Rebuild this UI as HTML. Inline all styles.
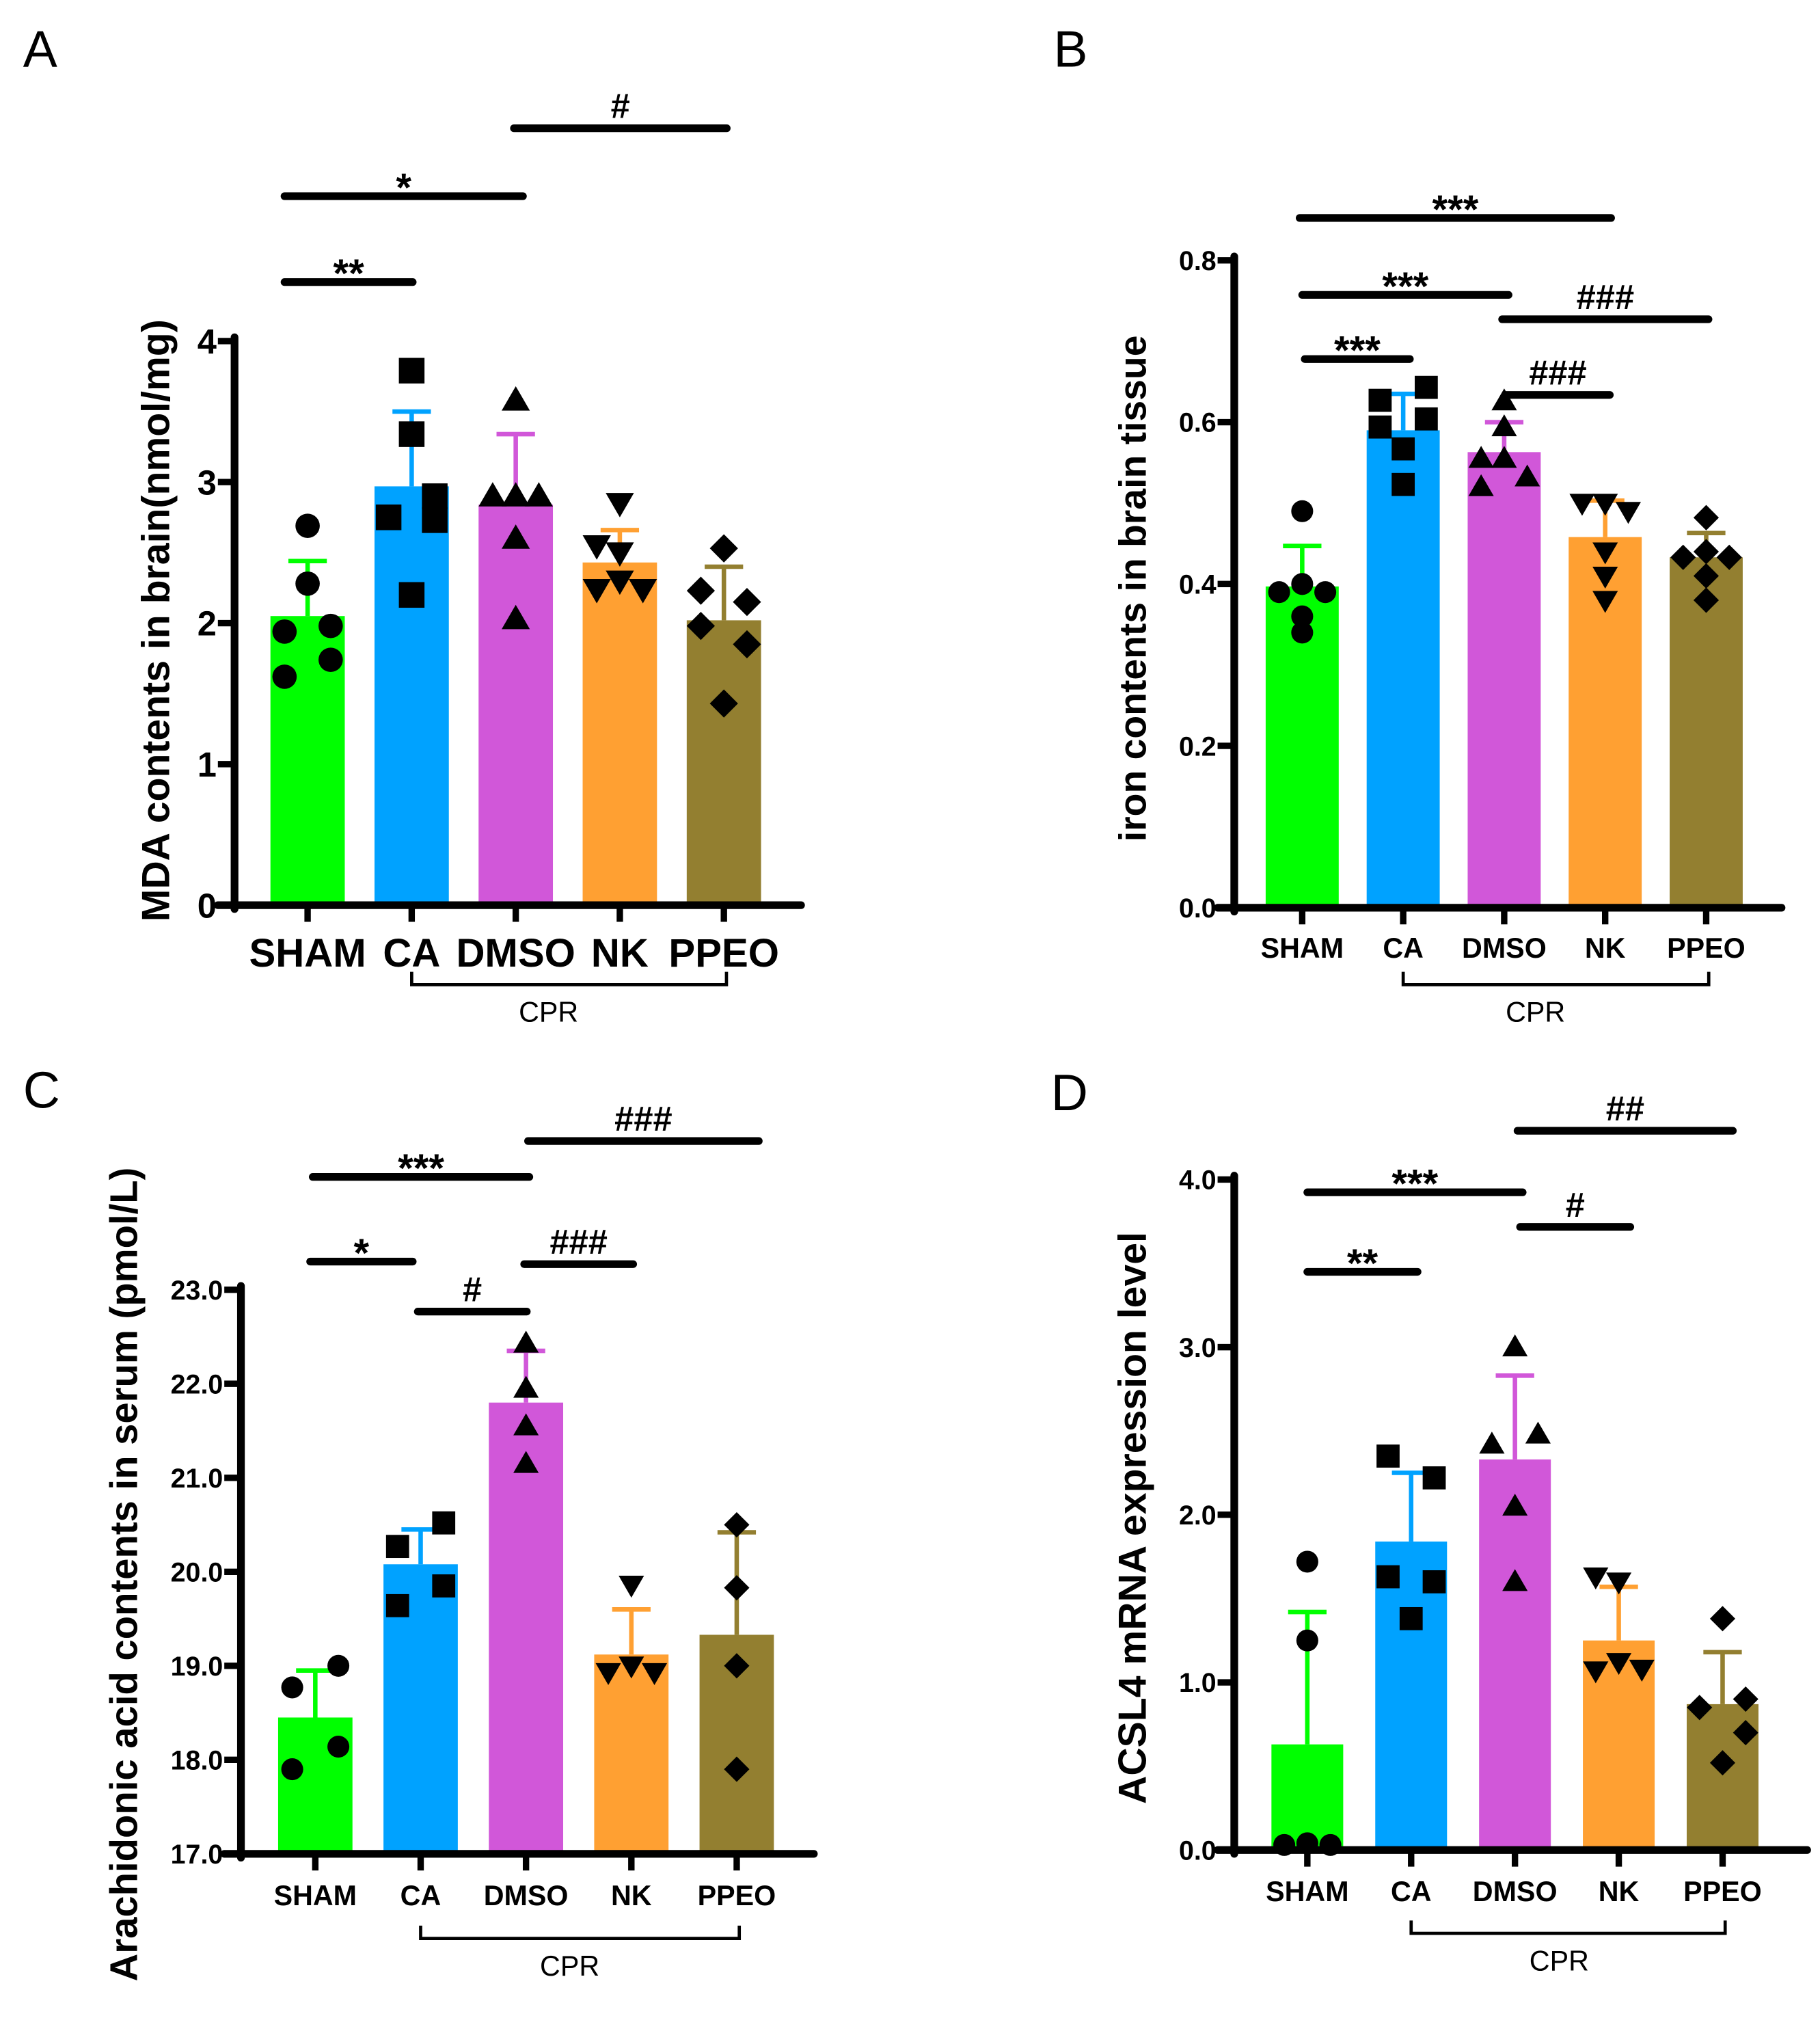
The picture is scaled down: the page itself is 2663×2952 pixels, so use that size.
<!DOCTYPE html>
<html><head><meta charset="utf-8"><style>
html,body{margin:0;padding:0;background:#fff}
svg{display:block}
text{font-family:"Liberation Sans",Arial,sans-serif}
</style></head><body>
<svg id="fig" xmlns="http://www.w3.org/2000/svg" width="2663" height="2952" viewBox="0 0 1420 1574"></svg>
<script>
const groups = ["SHAM","CA","DMSO","NK","PPEO"];
const colors = ["#00FF00","#00A2FF","#D157D9","#FFA032","#937F30"];
const shapes = ["circle","square","tri","itri","diamond"];

const aMeans = [2.05,2.97,2.84,2.43,2.02];
const aTops  = [2.44,3.50,3.34,2.66,2.40];
const aPoints = [[2.69,2.28,1.94,1.98,1.62,1.74],[3.79,3.34,2.75,2.9,2.73,2.2],[3.58,2.9,2.9,2.9,2.6,2.03],[2.85,2.55,2.5,2.24,2.3,2.24],[2.53,2.23,2.15,1.98,1.85,1.43]];
const aOffsets = [[0,0,-18,18,-18,18],[0,0,-18,18,18,0],[0,-18,0,18,0,0],[0,-18,0,-18,0,18],[0,-18,18,-18,18,0]];
const aTicks = ["0","1","2","3","4"];

const bMeans = [0.397,0.59,0.563,0.458,0.433];
const bTops  = [0.447,0.635,0.60,0.503,0.463];
const bPoints = [[0.49,0.40,0.39,0.39,0.36,0.34],[0.627,0.643,0.594,0.604,0.567,0.523],[0.626,0.594,0.555,0.555,0.52,0.532],[0.50,0.50,0.49,0.44,0.41,0.38],[0.482,0.44,0.433,0.433,0.41,0.38]];
const bOffsets = [[0,0,-18,18,0,0],[-18,18,-18,18,0,0],[0,0,-18,0,-18,18],[-18,0,18,0,0,0],[0,0,-18,18,0,0]];
const bTicks = ["0.0","0.2","0.4","0.6","0.8"];

const cMeans = [18.45,20.08,21.8,19.12,19.33];
const cTops  = [18.95,20.45,22.35,19.6,20.42];
const cPoints = [[18.77,19.0,18.14,17.9],[20.52,20.27,19.64,19.85],[22.43,21.95,21.55,21.15],[19.86,19.0,18.93,18.93],[20.5,19.83,19.0,17.9]];
const cOffsets = [[-18,18,18,-18],[18,-18,-18,18],[0,0,0,0],[0,0,-18,18],[0,0,0,0]];
const cTicks = ["17.0","18.0","19.0","20.0","21.0","22.0","23.0"];

const dMeans = [0.63,1.84,2.33,1.25,0.87];
const dTops  = [1.42,2.25,2.83,1.57,1.18];
const dPoints = [[1.72,1.25,0.03,0.04,0.03],[2.35,2.22,1.63,1.6,1.38],[3.0,2.42,2.48,2.05,1.6],[1.63,1.6,1.07,1.12,1.08],[1.38,0.9,0.85,0.7,0.52]];
const dOffsets = [[0,0,-18,0,18],[-18,18,-18,18,0],[0,-18,18,0,0],[-18,0,-18,0,18],[0,18,-18,18,0]];
const dTicks = ["0.0","1.0","2.0","3.0","4.0"];

const svg = document.getElementById('fig');
const NS = "http://www.w3.org/2000/svg";
function mk(tag, attrs, parent){const e=document.createElementNS(NS,tag);for(const k in attrs)e.setAttribute(k,attrs[k]);(parent||svg).appendChild(e);return e;}
function txt(s, attrs, parent){const e=mk('text',attrs,parent);e.textContent=s;return e;}

function panel(cfg){
  const g = mk('g',{});
  
  
  const y = v => cfg.y0 - (v - cfg.vmin)/(cfg.vmax-cfg.vmin)*(cfg.y0-cfg.ytop);
  const xc = i => cfg.x0 + i*cfg.step;
  const bw = cfg.bw;
  const L = txt(cfg.letter,{x:cfg.lx,y:cfg.ly,'font-size':40,fill:'#000'},g);
  
  
  groups.forEach((grp,i)=>{
    const r = mk('rect',{x:xc(i)-bw/2,y:y(cfg.means[i]),width:bw,height:cfg.y0-y(cfg.means[i]),fill:colors[i]},g);
    
    
    const e = mk('path',{d:`M${xc(i)} ${y(cfg.means[i])}V${y(cfg.tops[i])}M${xc(i)-15} ${y(cfg.tops[i])}H${xc(i)+15}`,stroke:colors[i],'stroke-width':3.5,fill:'none'},g);
    
    
  });
  groups.forEach((grp,i)=>{
    cfg.points[i].forEach((v,j)=>{
      const px = xc(i)+cfg.offsets[i][j]*cfg.sp, py=y(v), s=cfg.ms;
      let m;
      if(shapes[i]==='circle') m=mk('circle',{cx:px,cy:py,r:s*0.95,fill:'#000'},g);
      else if(shapes[i]==='square') m=mk('rect',{x:px-s,y:py-s,width:2*s,height:2*s,fill:'#000'},g);
      else if(shapes[i]==='tri') m=mk('polygon',{points:`${px},${py-s*1.1} ${px+s*1.1},${py+s*0.8} ${px-s*1.1},${py+s*0.8}`,fill:'#000'},g);
      else if(shapes[i]==='itri') m=mk('polygon',{points:`${px},${py+s*1.1} ${px+s*1.1},${py-s*0.8} ${px-s*1.1},${py-s*0.8}`,fill:'#000'},g);
      else m=mk('polygon',{points:`${px},${py-s*1.1} ${px+s*1.1},${py} ${px},${py+s*1.1} ${px-s*1.1},${py}`,fill:'#000'},g);
      
      
    });
  });
  const ax = mk('path',{d:`M${cfg.ax} ${cfg.ytop-3}V${cfg.y0+3}M${cfg.ax-13} ${cfg.y0}H${cfg.xend}`,stroke:'#000','stroke-width':6,'stroke-linecap':'round',fill:'none'},g);
  
  
  cfg.ticks.forEach((t,k)=>{
    const v = cfg.vmin + k*(cfg.vmax-cfg.vmin)/(cfg.ticks.length-1);
    mk('path',{d:`M${cfg.ax-13} ${y(v)}H${cfg.ax}`,stroke:'#000','stroke-width':5},g);
    const tl = txt(t,{x:cfg.ax-14,y:y(v)+cfg.tfs*0.36,'font-size':cfg.tfs,'font-weight':'bold','text-anchor':'end'},g);
    
    
  });
  groups.forEach((grp,i)=>{
    mk('path',{d:`M${xc(i)} ${cfg.y0}V${cfg.y0+13}`,stroke:'#000','stroke-width':5},g);
    const xl = txt(grp,{x:xc(i),y:cfg.xly,'font-size':cfg.xfs,'font-weight':'bold','text-anchor':'middle'},g);
    
    
  });
  const br = mk('path',{d:`M${xc(1)} ${cfg.bry-10}V${cfg.bry}H${xc(4)+2}V${cfg.bry-10}`,stroke:'#000','stroke-width':2.5,fill:'none'},g);
  
  
  const ct = txt('CPR',{x:(xc(1)+xc(4))/2+cfg.cprdx,y:cfg.bry+29,'font-size':22,'text-anchor':'middle'},g);
  
  
  const yt = txt(cfg.title,{x:0,y:0,'font-size':cfg.yfs,'font-weight':'bold','text-anchor':'middle',transform:`translate(${cfg.tx},${cfg.ty}) rotate(-90)`},g);
  
  
  cfg.sig.forEach(s=>{
    const l = mk('path',{d:`M${s[0]} ${s[2]}H${s[1]}`,stroke:'#000','stroke-width':6,'stroke-linecap':'round'},g);
    
    
    const t = txt(s[3],{x:(s[0]+s[1])/2,y:s[2]-(s[3][0]==='*'?-4:8),'font-size':s[3][0]==='*'?31:27,'font-weight':'bold','text-anchor':'middle'},g);
    
    
  });
}

panel({letter:'A',lx:18,ly:52,means:aMeans,tops:aTops,points:aPoints,offsets:aOffsets,ticks:aTicks,vmin:0,vmax:4,
  y0:706,ytop:266,x0:240,step:81.2,bw:58,ax:183,xend:625,tfs:27,xly:754,xfs:31,bry:768,cprdx:-15,ms:10,sp:1,
  title:'MDA contents in brain(nmol/mg)',tx:132,ty:484,yfs:30.5,
  sig:[[222,322,220,'**'],[222,408,153,'*'],[401,567,100,'#']]});
panel({letter:'B',lx:822,ly:52,means:bMeans,tops:bTops,points:bPoints,offsets:bOffsets,ticks:bTicks,vmin:0,vmax:0.8,
  y0:708,ytop:203,x0:1016,step:78.8,bw:57,ax:963,xend:1390,tfs:21,xly:747,xfs:22,bry:768,cprdx:-15,ms:9,sp:1,
  title:'iron contents in brain tissue',tx:894,ty:459,yfs:29.5,
  sig:[[1018,1100,280,'***'],[1016,1177,230,'***'],[1014,1257,170,'***'],[1172,1333,249,'###'],[1175,1256,308,'###']]});
panel({letter:'C',lx:18,ly:864,means:cMeans,tops:cTops,points:cPoints,offsets:cOffsets,ticks:cTicks,vmin:17,vmax:23,
  y0:1446,ytop:1006,x0:246,step:82.2,bw:58,ax:188,xend:635,tfs:21,xly:1486,xfs:22,bry:1512,cprdx:-7,ms:9,sp:1,
  title:'Arachidonic acid contents in serum (pmol/L)',tx:107,ty:1228,yfs:30,
  sig:[[242,322,984,'*'],[244,413,918,'***'],[326,411,1023,'#'],[409,494,986,'###'],[412,592,890,'###']]});
panel({letter:'D',lx:820,ly:866,means:dMeans,tops:dTops,points:dPoints,offsets:dOffsets,ticks:dTicks,vmin:0,vmax:4,
  y0:1443,ytop:920,x0:1020,step:81,bw:56,ax:963,xend:1410,tfs:21,xly:1483,xfs:22,bry:1508,cprdx:-6,ms:9,sp:1,
  title:'ACSL4 mRNA expression level',tx:894,ty:1184,yfs:30.5,
  sig:[[1020,1106,992,'**'],[1020,1188,930,'***'],[1186,1272,957,'#'],[1184,1352,882,'##']]});
</script>
</body></html>
